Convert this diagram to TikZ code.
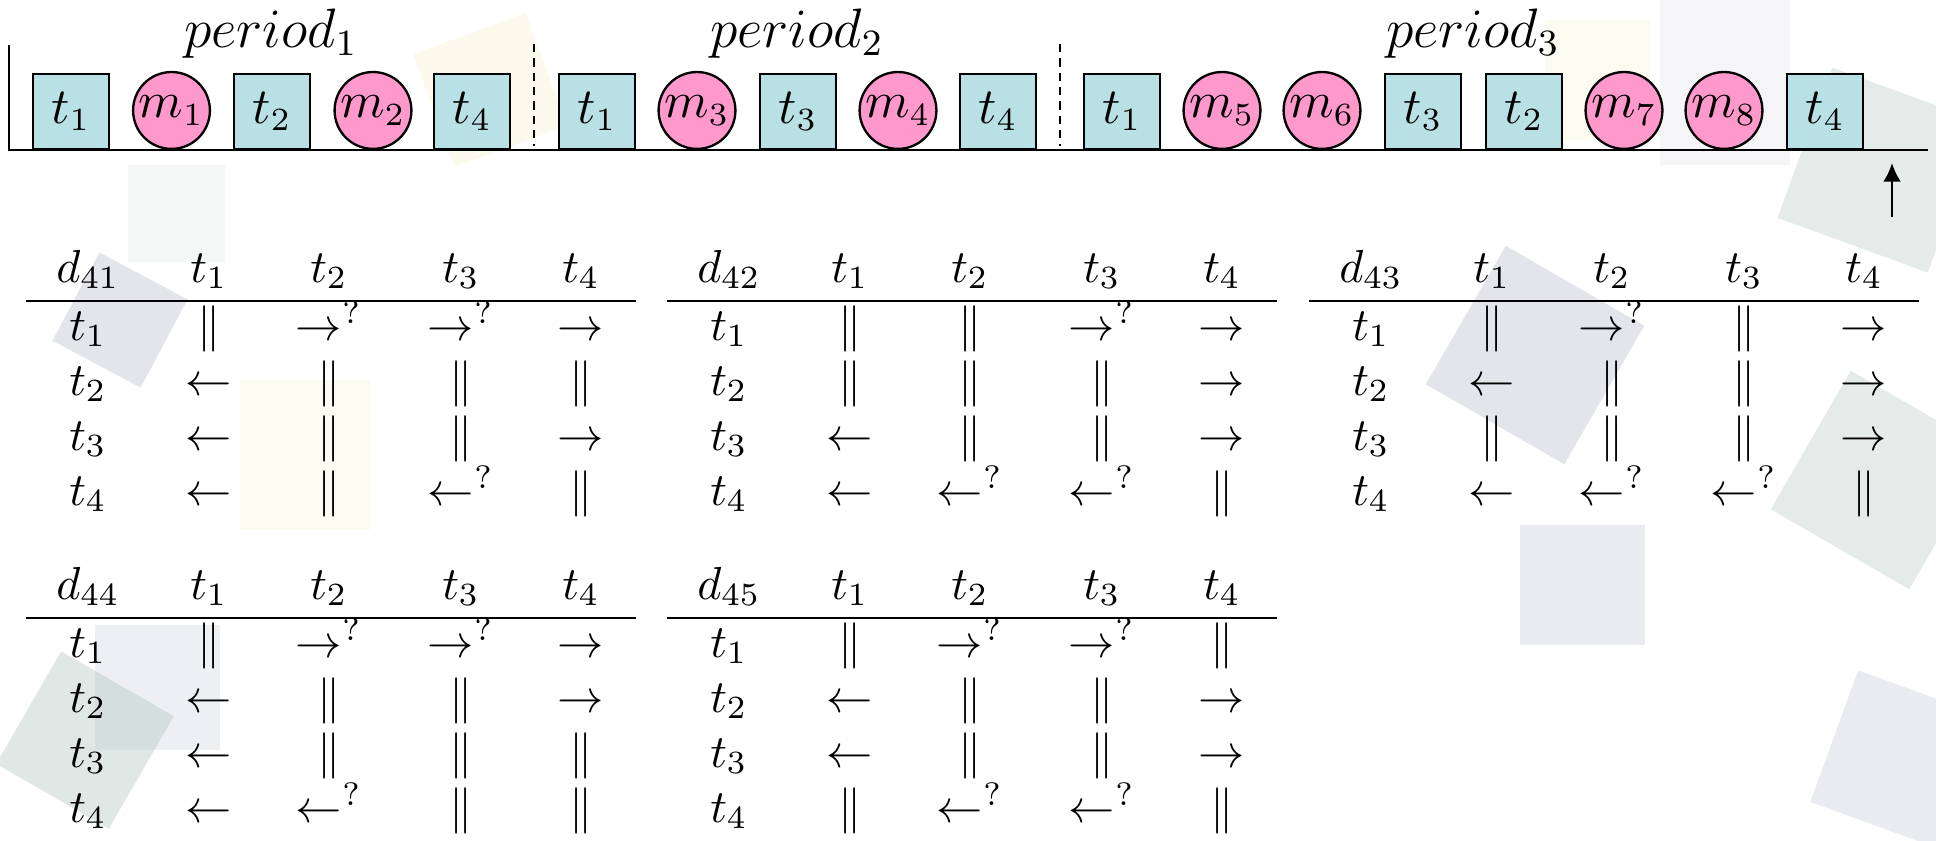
\documentclass[tikz,border=0pt]{standalone}
\usetikzlibrary{arrows.meta}
\definecolor{boxc}{RGB}{185,224,228}
\definecolor{pinkc}{RGB}{255,153,204}
\definecolor{bggrey}{RGB}{185,190,205}
\definecolor{bggreen}{RGB}{165,190,180}
\definecolor{bgyellow}{RGB}{240,235,185}
\newcommand\dsymp{\|}
\newcommand\dsymr{\rightarrow}
\newcommand\dsyml{\leftarrow}
\newcommand\dsymR{\rightarrow^?}
\newcommand\dsymL{\leftarrow^?}
\newcommand\dtable[5]{%
  \node[tcell] (#1-h0) at (#2+88,#3+282) {$d_{4#4}$};
  \foreach \j/\cx in {1/209,2/329,3/461,4/581}
    \node[tcell] (#1-h\j) at (#2+\cx,#3+282) {$t_\j$};
  \coordinate (#1-L) at (#2+26,#3+301);
  \coordinate (#1-R) at (#2+636,#3+301);
  \draw[rulel] (#1-L) -- (#1-R);
  \foreach \row [count=\i] in {#5} {
    \node[tcell] (#1-r\i) at (#2+88,#3+285+55*\i) {$t_\i$};
    \foreach \c [count=\j] in \row {
      \pgfmathsetmacro\cx{{209,329,461,581}[\j-1]}
      \node[tcell] (#1-\i-\j) at (#2+\cx,#3+285+55*\i) {$\csname dsym\c\endcsname$};
    }
  }
}
\begin{document}
\begin{tikzpicture}[x=0.216pt,y=-0.216pt,
  tbox/.style={draw=black,line width=0.5pt,fill=boxc,anchor=south,inner sep=0pt,
    minimum width=16.4pt,minimum height=16.2pt,font=\fontsize{10.5}{12}\selectfont},
  mcirc/.style={draw=black,line width=0.5pt,fill=pinkc,circle,anchor=south,inner sep=0pt,
    minimum size=16.6pt,font=\fontsize{10.5}{12}\selectfont},
  plabel/.style={anchor=base,inner sep=0pt,font=\fontsize{12}{14}\selectfont},
  tcell/.style={anchor=base,inner sep=0pt,font=\fontsize{10.2}{12}\selectfont},
  rulel/.style={line width=0.5pt},
  axisl/.style={line width=0.55pt},
  sepl/.style={line width=0.5pt,dash pattern=on 1.8pt off 1.3pt},
  bgsq/.style={opacity=0.35}]
\useasboundingbox (0,0) rectangle (1936,840);
% faint background squares
\fill[bggreen,opacity=0.12] (128,165) rectangle (225,262);
\fill[bggrey,opacity=0.4,rotate around={-28:(120,320)}] (70,270) rectangle (170,370);
\fill[bgyellow,opacity=0.25,rotate around={20:(490,90)}] (430,30) rectangle (550,150);
\fill[bgyellow,opacity=0.2] (240,380) rectangle (370,530);
\fill[bggrey,opacity=0.25] (95,625) rectangle (220,750);
\fill[bggreen,opacity=0.35,rotate around={-30:(85,740)}] (20,675) rectangle (150,805);
\fill[bggrey,opacity=0.4,rotate around={-30:(1535,355)}] (1455,275) rectangle (1615,435);
\fill[bggrey,opacity=0.3] (1520,525) rectangle (1645,645);
\fill[bgyellow,opacity=0.2] (1545,20) rectangle (1650,140);
\fill[bggrey,opacity=0.15] (1660,0) rectangle (1790,165);
\fill[bggreen,opacity=0.3,rotate around={-20:(1880,170)}] (1800,90) rectangle (1960,250);
\fill[bggreen,opacity=0.3,rotate around={-30:(1880,480)}] (1800,400) rectangle (1960,560);
\fill[bggrey,opacity=0.3,rotate around={-20:(1900,760)}] (1830,690) rectangle (1970,830);
% timeline
\coordinate (axTop) at (9,45);
\coordinate (axO) at (9,150);
\coordinate (axEnd) at (1928,150);
\draw[axisl] (axTop) -- (axO) -- (axEnd);
\foreach \n/\x/\lab in {a1/71/t_1,a3/272/t_2,a5/472/t_4,
    b1/597/t_1,b3/798/t_3,b5/998/t_4,
    c1/1122/t_1,c4/1423/t_3,c5/1524/t_2,c8/1825/t_4}
  \node[tbox] (\n) at (\x,150) {$\lab$};
\foreach \n/\x/\lab in {a2/171.5/m_1,a4/373/m_2,b2/697/m_3,b4/898/m_4,
    c2/1222/m_5,c3/1322/m_6,c6/1624/m_7,c7/1724/m_8}
  \node[mcirc] (\n) at (\x,150) {$\lab$};
\node[plabel] (per1) at (271,47) {$period_1$};
\node[plabel] (per2) at (797,47) {$period_2$};
\node[plabel] (per3) at (1473,47) {$period_3$};
\coordinate (s1t) at (534,44); \coordinate (s1b) at (534,146);
\coordinate (s2t) at (1060,44); \coordinate (s2b) at (1060,146);
\draw[sepl] (s1t) -- (s1b);
\draw[sepl] (s2t) -- (s2b);
\coordinate (arS) at (1892,217); \coordinate (arE) at (1892,163);
\draw[line width=0.5pt,-{Latex[length=4pt,width=3.8pt]}] (arS) -- (arE);
% tables
\dtable{T1}{0}{0}{1}{{p,R,R,r},{l,p,p,p},{l,p,p,r},{l,p,L,p}}
\dtable{T2}{641}{0}{2}{{p,p,R,r},{p,p,p,r},{l,p,p,r},{l,L,L,p}}
\dtable{T3}{1283}{0}{3}{{p,R,p,r},{l,p,p,r},{p,p,p,r},{l,L,L,p}}
\dtable{T4}{0}{317}{4}{{p,R,R,r},{l,p,p,r},{l,p,p,p},{l,L,p,p}}
\dtable{T5}{641}{317}{5}{{p,R,R,p},{l,p,p,r},{l,p,p,r},{p,L,L,p}}
\end{tikzpicture}
\end{document}
